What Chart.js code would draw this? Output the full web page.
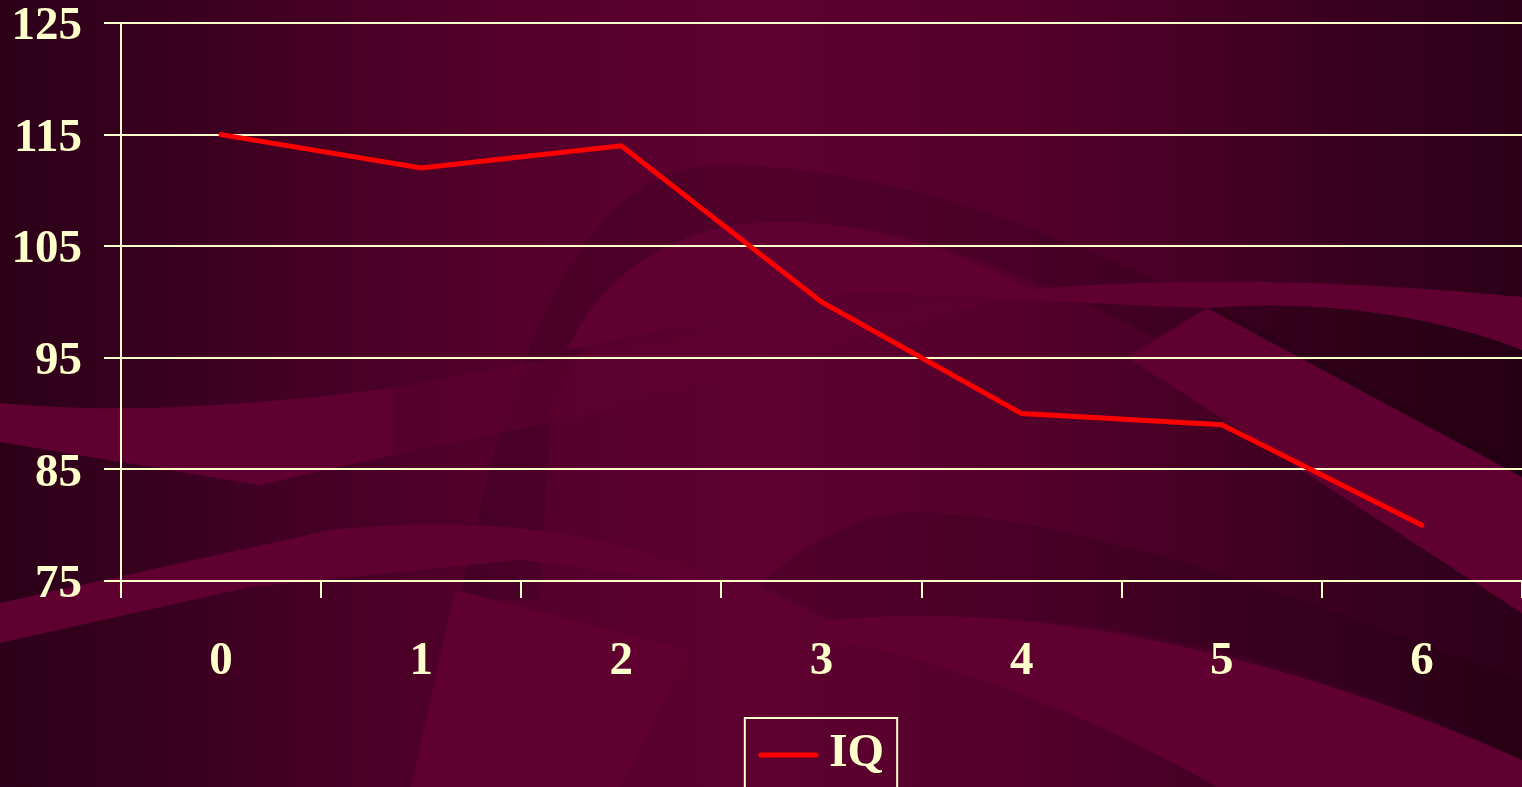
<!DOCTYPE html>
<html>
<head>
<meta charset="utf-8">
<script src="https://cdn.jsdelivr.net/npm/chart.js@4"></script>
<style>
html,body{margin:0;padding:0;background:#2c0018;}
canvas{display:block;}
</style>
</head>
<body>
<canvas id="c" width="1522" height="787"></canvas>
<script>
const categories = ['0','1','2','3','4','5','6'];
const iqValues = [115, 112, 114, 100, 90, 89, 80];
const seriesName = 'IQ';
const yTicks = [75, 85, 95, 105, 115, 125];

const CREAM = '#FFFFCC';
const LINE_RED = '#FF0000';
const FONT = {family: "'Liberation Serif', 'Times New Roman', serif", size: 47, weight: 'bold'};

const bgPlugin = {
  id: 'bg',
  beforeDraw(chart) {
    const ctx = chart.ctx, W = chart.width, H = chart.height;
    ctx.save();
    const g = ctx.createLinearGradient(0, 0, W, 0);
    g.addColorStop(0, '#2c0018');
    g.addColorStop(0.33, '#54002b');
    g.addColorStop(0.5, '#5e0030');
    g.addColorStop(0.67, '#54002b');
    g.addColorStop(1, '#2c0018');
    ctx.fillStyle = g;
    ctx.fillRect(0, 0, W, H);
    const light = '#5f0031';
    const dark = 'rgba(20,0,10,0.16)';
    function shape(fill, fn){ ctx.beginPath(); fn(); ctx.closePath(); ctx.fillStyle = fill; ctx.fill(); }
    // dark arch
    shape(dark, () => {
      ctx.moveTo(460, 600);
      ctx.bezierCurveTo(520, 300, 600, 165, 720, 165);
      ctx.bezierCurveTo(950, 165, 1200, 290, 1522, 470);
      ctx.lineTo(1522, 540);
      ctx.bezierCurveTo(1250, 390, 1000, 225, 790, 222);
      ctx.bezierCurveTo(650, 222, 590, 320, 550, 420);
      ctx.lineTo(540, 600);
    });
    // light arch interior
    shape(light, () => {
      ctx.moveTo(567, 350);
      ctx.bezierCurveTo(610, 260, 690, 222, 780, 222);
      ctx.bezierCurveTo(900, 225, 1000, 270, 1050, 300);
      ctx.lineTo(847, 292);
    });
    // light band left
    shape(light, () => {
      ctx.moveTo(0, 403);
      ctx.bezierCurveTo(120, 415, 260, 405, 392, 388);
      ctx.lineTo(392, 455);
      ctx.lineTo(260, 485);
      ctx.lineTo(0, 442);
    });
    // faint band continuing right
    shape('rgba(95,0,49,0.6)', () => {
      ctx.moveTo(392, 388);
      ctx.lineTo(600, 350);
      ctx.lineTo(1000, 292);
      ctx.lineTo(1000, 300);
      ctx.lineTo(600, 412);
      ctx.lineTo(392, 455);
    });
    // band across the right
    shape(light, () => {
      ctx.moveTo(1000, 292);
      ctx.bezierCurveTo(1200, 272, 1400, 285, 1522, 297);
      ctx.lineTo(1522, 350);
      ctx.bezierCurveTo(1420, 310, 1300, 300, 1207, 308);
      ctx.bezierCurveTo(1120, 305, 1050, 300, 1000, 300);
    });
    // dark upper right
    shape('rgba(20,0,10,0.28)', () => {
      ctx.moveTo(1207, 308);
      ctx.bezierCurveTo(1300, 300, 1420, 310, 1522, 350);
      ctx.lineTo(1522, 477);
    });
    // diagonal light wedge right
    shape(light, () => {
      ctx.moveTo(1127, 357);
      ctx.lineTo(1207, 308);
      ctx.lineTo(1522, 477);
      ctx.lineTo(1522, 613);
    });
    // bottom-left light band
    shape(light, () => {
      ctx.moveTo(0, 603);
      ctx.lineTo(330, 530);
      ctx.bezierCurveTo(480, 515, 620, 530, 720, 585);
      ctx.lineTo(520, 560);
      ctx.lineTo(250, 587);
      ctx.lineTo(0, 643);
    });
    // bottom center light wedge
    shape(light, () => {
      ctx.moveTo(455, 590);
      ctx.lineTo(690, 650);
      ctx.lineTo(620, 787);
      ctx.lineTo(411, 787);
    });
    // bottom-right dark band
    shape(dark, () => {
      ctx.moveTo(760, 585);
      ctx.bezierCurveTo(820, 530, 870, 512, 920, 512);
      ctx.bezierCurveTo(1100, 520, 1300, 600, 1522, 680);
      ctx.lineTo(1522, 760);
      ctx.bezierCurveTo(1300, 650, 1050, 600, 830, 620);
    });
    // bottom-right light band
    shape(light, () => {
      ctx.moveTo(830, 620);
      ctx.bezierCurveTo(1050, 600, 1300, 660, 1522, 760);
      ctx.lineTo(1522, 787);
      ctx.lineTo(1217, 787);
      ctx.bezierCurveTo(1100, 720, 950, 660, 830, 640);
    });
    ctx.restore();
  }
};

const SAMPLE_W = 59;
const legendBoxPlugin = {
  id: 'legendBox',
  afterUpdate(chart) {
    const lg = chart.legend;
    if (!lg) return;
    lg.left = chart.chartArea.left;
    lg.right = chart.chartArea.right;
    lg.width = lg.right - lg.left;
    lg.adjustHitBoxes();
  },
  afterDraw(chart) {
    const lg = chart.legend;
    if (!lg || !lg.legendHitBoxes || !lg.legendHitBoxes.length) return;
    const h = lg.legendHitBoxes[0];
    const ctx = chart.ctx;
    ctx.save();
    ctx.strokeStyle = CREAM;
    ctx.lineWidth = 2;
    ctx.strokeRect(h.left - 14, 718, h.width + 27, 100);
    const cy = lg.top + lg.height / 2 + 1;
    ctx.strokeStyle = LINE_RED;
    ctx.lineWidth = 5;
    ctx.lineCap = 'round';
    ctx.beginPath();
    ctx.moveTo(h.left + 2, cy);
    ctx.lineTo(h.left + SAMPLE_W - 2, cy);
    ctx.stroke();
    ctx.restore();
  }
};

new Chart(document.getElementById('c'), {
  type: 'line',
  data: {
    labels: categories,
    datasets: [{
      label: seriesName,
      data: iqValues,
      borderColor: LINE_RED,
      backgroundColor: LINE_RED,
      borderWidth: 5,
      borderCapStyle: 'round',
      borderJoinStyle: 'miter',
      pointRadius: 0,
      pointHoverRadius: 0,
      tension: 0,
      fill: false
    }]
  },
  options: {
    responsive: false,
    animation: false,
    devicePixelRatio: 1,
    layout: {padding: {left: 0, right: 0, top: 23, bottom: 0}},
    plugins: {
      tooltip: {enabled: false},
      legend: {
        position: 'bottom',
        labels: {
          color: CREAM,
          font: FONT,
          usePointStyle: true,
          pointStyle: 'line',
          pointStyleWidth: 47,
          padding: 9,
          generateLabels(chart) {
            const items = Chart.defaults.plugins.legend.labels.generateLabels(chart);
            items.forEach(it => { it.strokeStyle = 'rgba(0,0,0,0)'; it.fillStyle = 'rgba(0,0,0,0)'; it.lineWidth = 0; });
            return items;
          }
        }
      }
    },
    scales: {
      x: {
        offset: true,
        grid: {
          offset: true,
          drawOnChartArea: false,
          drawTicks: true,
          tickLength: 17,
          color: CREAM,
          lineWidth: 2
        },
        border: {display: true, color: CREAM, width: 2},
        ticks: {color: CREAM, font: FONT, padding: 36, maxRotation: 0},
        afterFit(s) { s.height = 140; s.paddingLeft = 0; s.paddingRight = 0; }
      },
      y: {
        min: 75,
        max: 125,
        afterBuildTicks(s) { s.ticks = yTicks.map(v => ({value: v})); },
        grid: {
          color: CREAM,
          lineWidth: 2,
          drawTicks: true,
          tickLength: 17
        },
        border: {display: true, color: CREAM, width: 2},
        ticks: {color: CREAM, font: FONT, padding: 22, labelOffset: 4},
        afterFit(s) { s.width = 121; s.paddingTop = 0; s.paddingBottom = 0; }
      }
    }
  },
  plugins: [bgPlugin, legendBoxPlugin]
});
</script>
</body>
</html>
